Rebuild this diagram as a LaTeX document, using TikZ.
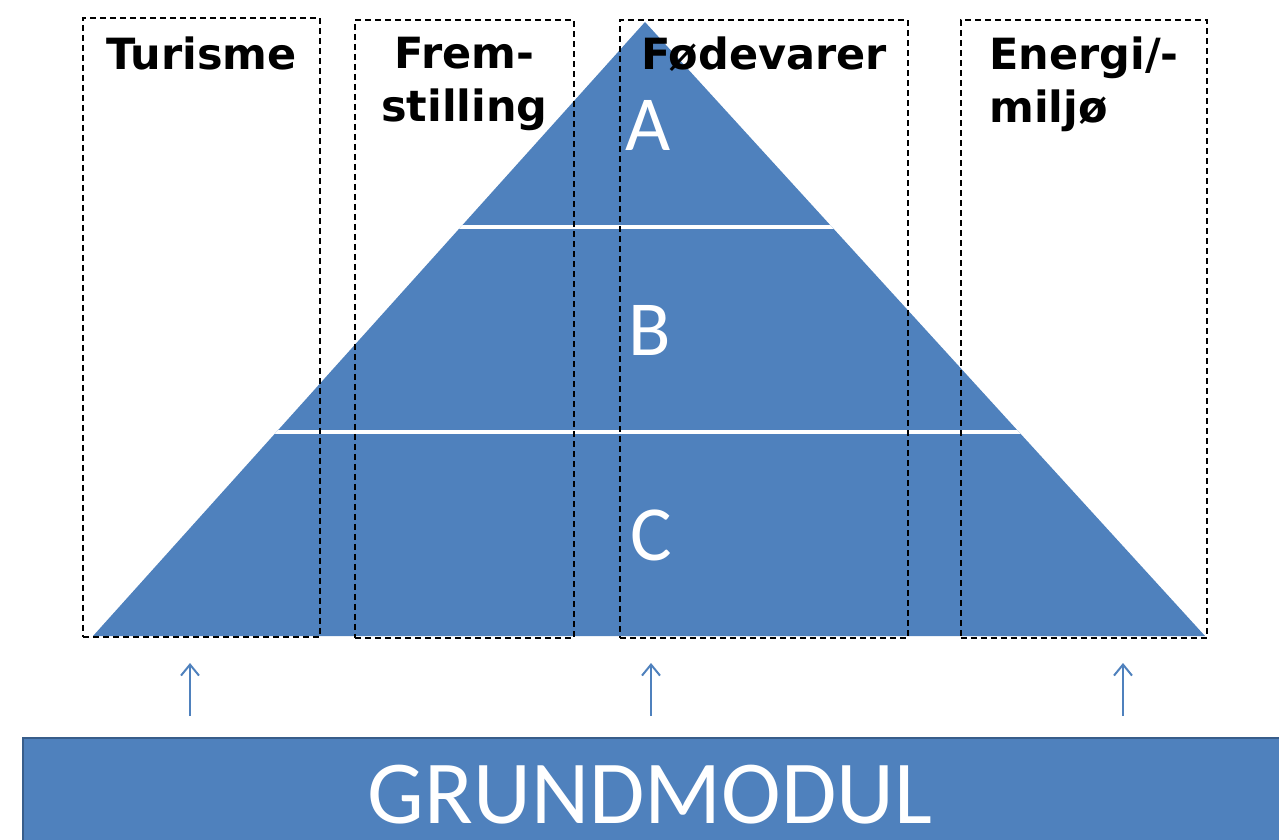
\documentclass[tikz,border=0pt]{standalone}
\usepackage{fontspec}
\setmainfont{DejaVu Sans}
\newfontfamily\calibri{Carlito}
\usetikzlibrary{arrows.meta}

\definecolor{pyrblue}{HTML}{4F81BD}
\definecolor{pyredge}{HTML}{385D8A}

\begin{document}
\begin{tikzpicture}[x=1pt, y=-1pt]
\useasboundingbox (0,0) rectangle (1279,840);

% Define styles
\tikzstyle{sector} = [draw=black, line width=1.8pt, dash pattern=on 6pt off 4pt, inner sep=0pt, anchor=north west]
\tikzstyle{title} = [font=\fontsize{43}{53}\selectfont\bfseries, inner sep=0pt, anchor=north]
\tikzstyle{level} = [font=\calibri\fontsize{78}{80}\selectfont, text=white, inner sep=0pt]
\tikzstyle{arrow} = [pyrblue, line width=2pt, -{Straight Barb[length=11pt, width=18pt]}]

% Pyramid
\coordinate (apex) at (645,22);
\coordinate (baseL) at (93,636);
\coordinate (baseR) at (1205,636);
\fill[pyrblue] (apex) -- (baseR) -- (baseL) -- cycle;
\begin{scope}
\clip (apex) -- (baseR) -- (baseL) -- cycle;
\draw[white, line width=4pt] (0,227) -- (1279,227);
\draw[white, line width=4pt] (0,432) -- (1279,432);
\end{scope}

\node[level] (lvlA) at (648,125) {A};
\node[level] (lvlB) at (650,330) {B};
\node[level] (lvlC) at (651,535) {C};

% Sectors
\node[sector, minimum width=237pt, minimum height=619pt] (turisme) at (82,17) {};
\node[title] at ([yshift=-20pt]turisme.north) {Turisme};

\node[sector, minimum width=219pt, minimum height=618pt] (frem) at (354,19) {};
\node[title, align=center] at ([yshift=-18pt]frem.north) {Frem-\\stilling};

\node[sector, minimum width=288pt, minimum height=618pt] (foede) at (619,19) {};
\node[title] at ([yshift=-18pt]foede.north) {Fødevarer};

\node[sector, minimum width=246pt, minimum height=618pt] (energi) at (960,19) {};
\node[title, align=left] at ([yshift=-18pt]energi.north) {Energi/-\\miljø};

% Base module
\node[fill=pyrblue, draw=pyredge, line width=1.5pt, inner sep=0pt, anchor=north west,
      minimum width=1290pt, minimum height=120pt] (grund) at (22,737) {};
\node[font=\calibri\fontsize{90}{94}\selectfont, text=white, inner sep=0pt] (grundtxt) at (650,795) {GRUNDMODUL};

\foreach \x in {190,651,1123}
  \draw[arrow] (\x,716) -- (\x,663);

\end{tikzpicture}
\end{document}
